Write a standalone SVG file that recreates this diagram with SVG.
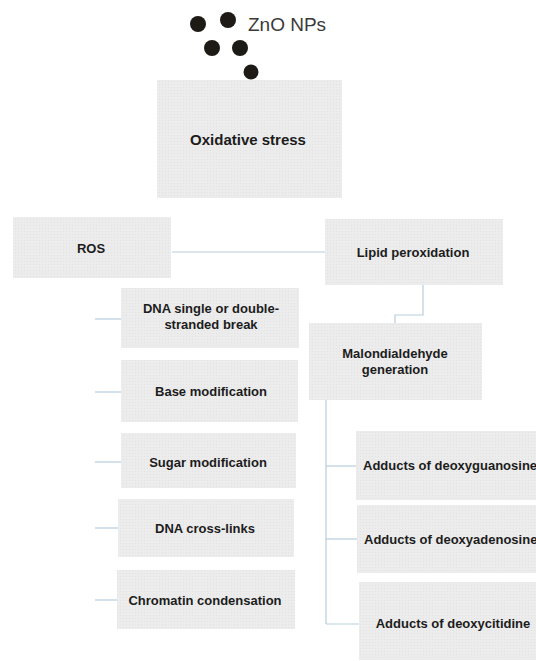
<svg xmlns="http://www.w3.org/2000/svg" width="536" height="661" viewBox="0 0 536 661">
<defs>
<pattern id="grid" width="3" height="3" patternUnits="userSpaceOnUse">
<rect width="3" height="3" fill="#ececec"/>
<rect width="1" height="1" fill="#e2e2e2"/>
</pattern>
</defs>
<style>
.box{fill:url(#grid);}
.t{font-family:"Liberation Sans",Arial,sans-serif;font-weight:bold;font-size:13px;fill:#1c1c1c;text-anchor:middle;}
.big{font-size:15px;}
.c{stroke:#b9cddc;stroke-width:1.2;fill:none;}
.dot{fill:#1e1a16;}
</style>
<rect width="536" height="661" fill="#ffffff"/>
<g id="zno">
<circle class="dot" cx="198" cy="24" r="8"/>
<circle class="dot" cx="228" cy="20" r="8"/>
<circle class="dot" cx="212" cy="48" r="8"/>
<circle class="dot" cx="240" cy="48" r="8"/>
<circle class="dot" cx="251" cy="72" r="7.5"/>
<text x="248" y="31" font-family="Liberation Sans, Arial, sans-serif" font-size="19" fill="#3a3a3a">ZnO NPs</text>
</g>
<g id="connectors">
<line class="c" x1="172" y1="252" x2="325" y2="252"/>
<polyline class="c" points="423,285 423,315 395,315 395,323"/>
<line class="c" x1="95" y1="319" x2="121" y2="319"/>
<line class="c" x1="95" y1="392" x2="121" y2="392"/>
<line class="c" x1="95" y1="462" x2="121" y2="462"/>
<line class="c" x1="95" y1="528" x2="118" y2="528"/>
<line class="c" x1="95" y1="600" x2="117" y2="600"/>
<line class="c" x1="326" y1="400" x2="326" y2="624"/>
<line class="c" x1="326" y1="466" x2="356" y2="466"/>
<line class="c" x1="326" y1="539" x2="357" y2="539"/>
<line class="c" x1="326" y1="624" x2="359" y2="624"/>
</g>
<g id="oxidative">
<rect class="box" x="157" y="80" width="185" height="118"/>
<text class="t big" x="248" y="145">Oxidative stress</text>
</g>
<g id="ros">
<rect class="box" x="13" y="217" width="158" height="61"/>
<text class="t" x="91" y="253">ROS</text>
</g>
<g id="lipid">
<rect class="box" x="325" y="219" width="178" height="66"/>
<text class="t" x="413" y="257">Lipid peroxidation</text>
</g>
<g id="dnabreak">
<rect class="box" x="121" y="288" width="178" height="60"/>
<text class="t" x="211" y="313">DNA single or double-</text>
<text class="t" x="211" y="329">stranded break</text>
</g>
<g id="base">
<rect class="box" x="121" y="360" width="177" height="62"/>
<text class="t" x="211" y="396">Base modification</text>
</g>
<g id="sugar">
<rect class="box" x="121" y="433" width="175" height="55"/>
<text class="t" x="208" y="467">Sugar modification</text>
</g>
<g id="crosslinks">
<rect class="box" x="118" y="499" width="176" height="58"/>
<text class="t" x="205" y="533">DNA cross-links</text>
</g>
<g id="chromatin">
<rect class="box" x="117" y="570" width="178" height="59"/>
<text class="t" x="205" y="605">Chromatin condensation</text>
</g>
<g id="malondialdehyde">
<rect class="box" x="309" y="323" width="173" height="77"/>
<text class="t" x="395" y="358">Malondialdehyde</text>
<text class="t" x="395" y="374">generation</text>
</g>
<g id="dg">
<rect class="box" x="356" y="431" width="180" height="69"/>
<text class="t" x="363" y="470" style="text-anchor:start">Adducts of deoxyguanosine</text>
</g>
<g id="da">
<rect class="box" x="357" y="505" width="179" height="68"/>
<text class="t" x="364" y="544" style="text-anchor:start">Adducts of deoxyadenosine</text>
</g>
<g id="dc">
<rect class="box" x="359" y="582" width="177" height="78"/>
<text class="t" x="453" y="628">Adducts of deoxycitidine</text>
</g>
</svg>
